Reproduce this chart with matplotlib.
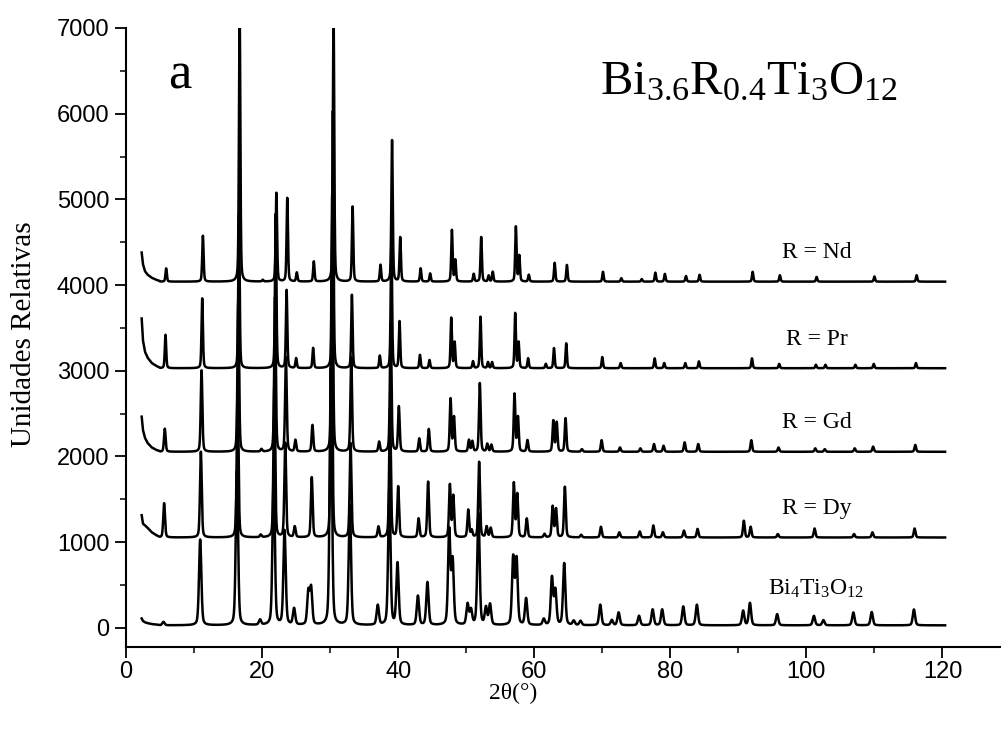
"""
Difractogramas de rayos X de Bi(3.6)R(0.4)Ti3O12 (R = Nd, Pr, Gd, Dy)
comparados con Bi4Ti3O12. Cada patrón se desplaza verticalmente.
"""

import numpy as np
import matplotlib.pyplot as plt
from matplotlib.ticker import MultipleLocator

# Posiciones de los picos (2θ en grados) medidas sobre el patrón de Bi4Ti3O12
POSICIONES = [5.5, 10.9, 16.3, 19.7, 21.7, 23.3, 24.7, 26.8, 27.2, 30.1,
              32.9, 37.0, 38.7, 39.9, 42.9, 44.3, 47.5, 48.0, 50.2, 50.7,
              51.8, 52.9, 53.5, 56.9, 57.4, 58.8, 61.4, 62.6, 63.1, 64.4,
              65.8, 66.8, 69.7, 71.4, 72.4, 75.4, 77.4, 78.8, 81.9, 83.9,
              90.7, 91.7, 95.7, 101.1, 102.5, 106.9, 109.6, 115.8]

# Altura de cada pico sobre la línea base (mismo orden que POSICIONES)
ALTURAS_BIT = [40, 1000, 1800, 60, 1800, 1100, 190, 380, 420, 3000,
               1400, 230, 1600, 720, 340, 500, 1100, 740, 240, 170,
               1300, 200, 240, 780, 760, 310, 70, 550, 400, 720,
               50, 50, 240, 60, 150, 110, 185, 185, 220, 240,
               170, 260, 130, 110, 60, 150, 155, 185]
ALTURAS_DY = [400, 1000, 1800, 30, 1800, 1100, 125, 0, 700, 3000,
              1100, 125, 1500, 590, 220, 650, 610, 480, 320, 80,
              880, 125, 110, 630, 500, 220, 40, 360, 330, 590,
              0, 30, 125, 0, 60, 70, 140, 60, 80, 100,
              195, 125, 40, 105, 0, 40, 60, 105]
ALTURAS_GD = [270, 950, 1800, 30, 1800, 1100, 135, 0, 310, 3000,
              1100, 115, 1500, 525, 155, 265, 615, 400, 135, 120,
              800, 90, 80, 670, 400, 135, 0, 360, 340, 390,
              0, 30, 135, 0, 50, 40, 90, 70, 110, 90,
              0, 135, 50, 40, 30, 40, 60, 80]
ALTURAS_PR = [390, 815, 1800, 0, 1800, 910, 115, 0, 235, 3000,
              855, 145, 1500, 545, 155, 95, 585, 300, 0, 80,
              600, 70, 70, 640, 300, 115, 50, 235, 0, 290,
              0, 0, 130, 0, 60, 0, 115, 60, 60, 80,
              0, 115, 50, 40, 40, 40, 50, 60]
ALTURAS_ND = [155, 535, 3200, 20, 1035, 975, 105, 0, 235, 3200,
              875, 195, 1650, 515, 155, 95, 600, 250, 0, 90,
              520, 70, 115, 640, 300, 80, 0, 220, 0, 195,
              0, 0, 115, 0, 40, 30, 105, 90, 65, 80,
              0, 115, 75, 55, 0, 0, 60, 75]

# Fondo a bajo ángulo: exceso sobre la línea base
FONDO_ANGULOS = [2.3, 2.5, 2.8, 3.2, 3.8, 4.5, 4.9]
FONDO_BIT = [80, 50, 35, 25, 15, 8, 5]
FONDO_DY = [260, 160, 140, 110, 60, 25, 10]
FONDO_GD = [410, 250, 160, 100, 50, 20, 10]
FONDO_PR = [580, 320, 190, 120, 60, 25, 10]
FONDO_ND = [340, 200, 120, 80, 45, 20, 10]

# Línea base y corrimiento angular de cada muestra (de abajo hacia arriba)
LINEAS_BASE = [30, 1055, 2055, 3030, 4040]
CORRIMIENTOS = [0.0, 0.1, 0.2, 0.3, 0.4]
ETIQUETAS = [r'Bi$_4$Ti$_3$O$_{12}$', 'R = Dy', 'R = Gd', 'R = Pr', 'R = Nd']

ALTURAS = [ALTURAS_BIT, ALTURAS_DY, ALTURAS_GD, ALTURAS_PR, ALTURAS_ND]
FONDOS = [FONDO_BIT, FONDO_DY, FONDO_GD, FONDO_PR, FONDO_ND]
ANCHOS = [0.2, 0.15, 0.14, 0.12, 0.12]

plt.rcParams['mathtext.fontset'] = 'custom'
plt.rcParams['mathtext.rm'] = 'Liberation Serif'
plt.rcParams['mathtext.it'] = 'Liberation Serif:italic'
SERIF = 'Liberation Serif'


def perfil(x, posiciones, alturas, ancho):
    """Suma de picos pseudo-Voigt centrados en las posiciones dadas."""
    y = np.zeros_like(x)
    for p, h in zip(posiciones, alturas):
        if h <= 0:
            continue
        t = (x - p) / ancho
        y += h * (0.35 / (1 + t ** 2) + 0.65 * np.exp(-np.log(2) * t ** 2))
    return y


fig = plt.figure(figsize=(10.01, 7.36), dpi=100)
ax = fig.add_axes([0.1259, 0.1209, 0.8741, 0.8411])

x_picos = np.arange(5.0, 120.4, 0.02)
for i in range(len(LINEAS_BASE)):
    base = LINEAS_BASE[i]
    pos = np.array(POSICIONES) + CORRIMIENTOS[i]
    y_picos = base + perfil(x_picos, pos, ALTURAS[i], ANCHOS[i])
    x = np.concatenate([FONDO_ANGULOS, x_picos])
    y = np.concatenate([base + np.array(FONDOS[i]), y_picos])
    ax.plot(x, y, color='black', linewidth=1.8)

    # etiqueta de cada difractograma
    dy = 420 if i == 0 else 340
    ax.text(101.5, base + dy, ETIQUETAS[i], fontsize=17, family=SERIF,
            ha='center', va='center')

ax.text(7.9, 6450, 'a', fontsize=38, family=SERIF, ha='center', va='center')
ax.text(91.5, 6220, r'$\mathrm{Bi_{3.6}R_{0.4}Ti_3O_{12}}$', fontsize=35,
        ha='center', va='baseline')

# Ejes
ax.set_xlim(0, 128.6)
ax.set_ylim(-223, 7000)
ax.xaxis.set_major_locator(MultipleLocator(20))
ax.xaxis.set_minor_locator(MultipleLocator(10))
ax.yaxis.set_major_locator(MultipleLocator(1000))
ax.yaxis.set_minor_locator(MultipleLocator(500))
ax.spines['top'].set_visible(False)
ax.spines['right'].set_visible(False)
for lado in ['left', 'bottom']:
    ax.spines[lado].set_linewidth(1.5)
ax.tick_params(which='major', direction='out', length=8, width=1.3,
               labelsize=17)
ax.tick_params(axis='x', which='major', pad=2)
ax.tick_params(axis='y', which='major', pad=4)
ax.tick_params(which='minor', direction='out', length=4, width=1.1)
for etiqueta in ax.get_xticklabels() + ax.get_yticklabels():
    etiqueta.set_family('Liberation Sans')

ax.set_xlabel('2θ(°)', fontsize=17, family=SERIF)
ax.xaxis.set_label_coords(0.442, -0.058)
ax.set_ylabel('Unidades Relativas', fontsize=21, family=SERIF)
ax.yaxis.set_label_coords(-0.102, 0.505)

fig.savefig('out.png', dpi=100)
